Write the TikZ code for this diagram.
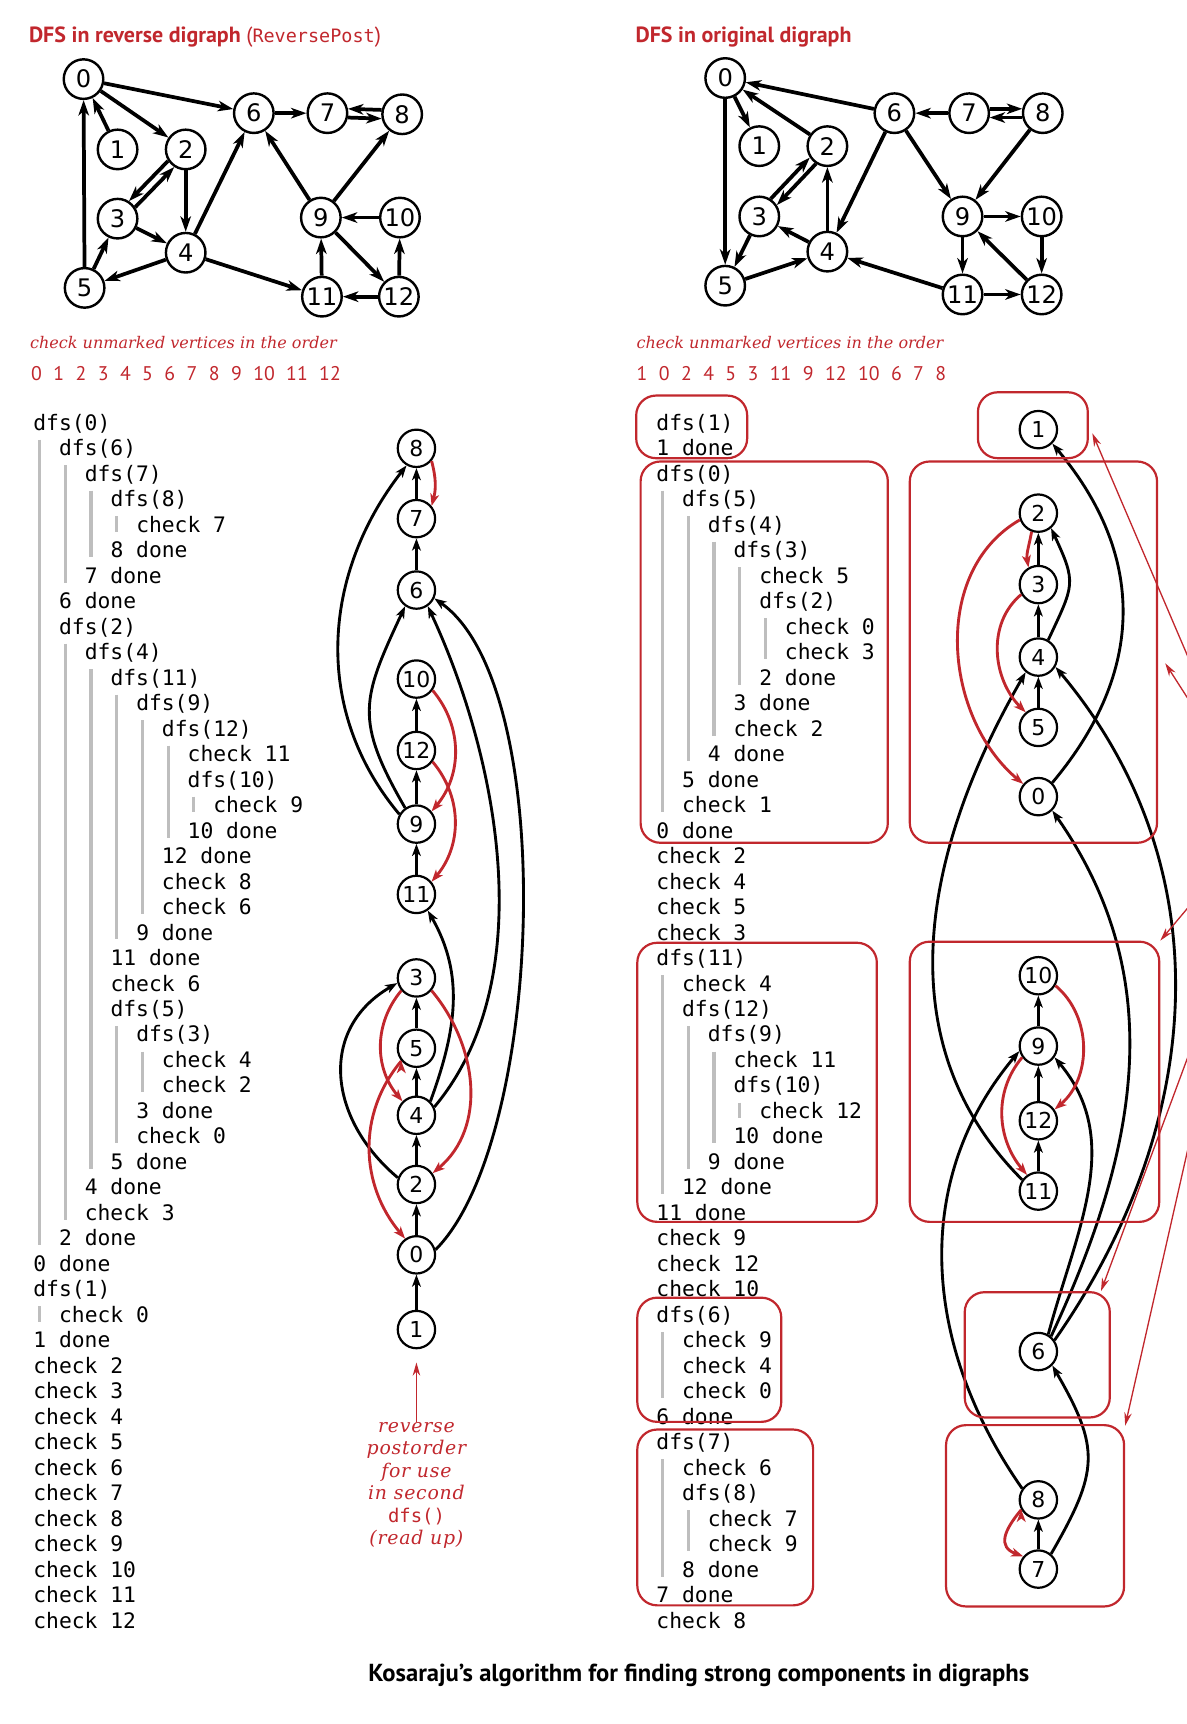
\documentclass[tikz,border=0pt]{standalone}
\usepackage{fontspec}
\newfontfamily\headfont{PT Sans}
\newfontfamily\vtxfont{DejaVu Sans}
\newfontfamily\codefont{DejaVu Sans Mono}
\newfontfamily\notefont{DejaVu Serif}
\usetikzlibrary{arrows.meta,fit}
\definecolor{kred}{RGB}{193,39,45}
\definecolor{kgray}{RGB}{190,190,190}
\tikzset{>={Stealth[length=7pt,width=4.8pt,inset=2pt]},
  vtx/.style={circle,draw,line width=1.1pt,inner sep=0pt,minimum size=18pt,font=\vtxfont\fontsize{11}{11}\selectfont},
  tvtx/.style={vtx,line width=1pt,minimum size=17pt,font=\vtxfont\fontsize{10}{10}\selectfont},
  gedge/.style={->,line width=1.7pt},
  tedge/.style={-{Stealth[length=5.5pt,width=4pt,inset=1.5pt]},line width=1.3pt},
  redge/.style={tedge,draw=kred},
  pointer/.style={-{Stealth[length=6pt,width=3.4pt]},draw=kred,line width=0.6pt},
  compbox/.style={draw=kred,line width=1pt,rounded corners=9pt,inner sep=0pt},
  codeline/.style={anchor=west,inner sep=0pt,text height=7pt,text depth=1.5pt,font=\codefont\fontsize{9.7}{11.6}\selectfont},
  callbar/.style={draw=kgray,line width=1.4pt},
  head/.style={anchor=base west,inner sep=0pt,text=kred,font=\headfont\bfseries\fontsize{10}{12}\selectfont},
  note/.style={anchor=base west,inner sep=0pt,text=kred,font=\notefont\itshape\fontsize{7.3}{9}\selectfont},
  order/.style={anchor=base west,inner sep=0pt,text=kred,font=\headfont\fontsize{9}{11}\selectfont}}

\begin{document}
\begin{tikzpicture}[x=0.5pt,y=0.5pt]
\useasboundingbox (0,0) rectangle (1080,-1569);

% reverse digraph
\node[head] (hrev) at (26,-39) {DFS in reverse digraph {\mdseries(}{\codefont\mdseries\fontsize{8.4}{10}\selectfont ReversePost}{\mdseries)}};
\foreach \v/\x/\y in {0/76/72,1/107/136,2/169/136,3/107/199,4/169/230,5/77/262,6/231/103,7/298/103,8/366/104,9/292/198,10/364/198,11/293/270,12/363/270}
  \node[vtx] (r\v) at (\x,-\y) {\v};
\path[gedge] (r0) edge (r6) (r0) edge (r2) (r1) edge (r0) (r5) edge (r0)
  (r2.213) edge (r3.57) (r3.33) edge (r2.237) (r2) edge (r4) (r3) edge (r4)
  (r5) edge (r3) (r4) edge (r5) (r4) edge (r6) (r6) edge (r7)
  (r8.168) edge (r7.12) (r7.-12) edge (r8.192) (r9) edge (r6) (r9) edge (r8)
  (r10) edge (r9) (r9) edge (r12) (r12) edge (r10) (r11) edge (r9)
  (r12) edge (r11) (r4) edge (r11);
\node[note] (nrev) at (27,-317) {check unmarked vertices in the order};
\node[order] (orev) at (28,-346) {\spaceskip=5.2pt 0 1 2 3 4 5 6 7 8 9 10 11 12};

% original digraph
\node[head] (horg) at (578,-39) {DFS in original digraph};
\foreach \v/\x/\y in {0/660/71,1/691/133,2/753/133,3/691/197,4/753/229,5/660/260,6/814/103,7/882/103,8/949/103,9/876/197,10/948/197,11/876/268,12/948/268}
  \node[vtx] (g\v) at (\x,-\y) {\v};
\path[gedge] (g6) edge (g0) (g0) edge (g1) (g0) edge (g5) (g2) edge (g0)
  (g3.57) edge (g2.213) (g2.237) edge (g3.33) (g4) edge (g2) (g4) edge (g3)
  (g3) edge (g5) (g5) edge (g4) (g6) edge (g4) (g6) edge (g9)
  (g7) edge (g6) (g7.12) edge (g8.168) (g8.192) edge (g7.-12) (g8) edge (g9)
  (g9) edge (g10) (g9) edge (g11) (g10) edge (g12) (g12) edge (g9)
  (g11) edge (g4) (g11) edge (g12);
\node[note] (norg) at (579,-317) {check unmarked vertices in the order};
\node[order] (oorg) at (579,-346) {\spaceskip=5.2pt 1 0 2 4 5 3 11 9 12 10 6 7 8};

% first dfs() trace
\foreach \l/\txt [count=\i from 0] in {0/dfs(0),1/dfs(6),2/dfs(7),3/dfs(8),4/check 7,3/8 done,2/7 done,1/6 done,1/dfs(2),2/dfs(4),3/dfs(11),4/dfs(9),5/dfs(12),6/check 11,6/dfs(10),7/check 9,6/10 done,5/12 done,5/check 8,5/check 6,4/9 done,3/11 done,3/check 6,3/dfs(5),4/dfs(3),5/check 4,5/check 2,4/3 done,4/check 0,3/5 done,2/4 done,2/check 3,1/2 done,0/0 done,0/dfs(1),1/check 0,0/1 done,0/check 2,0/check 3,0/check 4,0/check 5,0/check 6,0/check 7,0/check 8,0/check 9,0/check 10,0/check 11,0/check 12}
  \node[codeline] (lt\i) at ({30+23.4*\l},{-386-23.2*\i}) {\txt};
\foreach \l/\a/\b in {0/1/32,1/2/6,2/3/5,3/4/4,1/9/31,2/10/29,3/11/20,4/12/19,5/13/16,6/15/15,3/24/28,4/25/26,0/35/35}
  \draw[callbar] ({36+23.4*\l},{-377-23.2*\a}) -- ({36+23.4*\l},{-391-23.2*\b});

% second dfs() trace
\foreach \l/\txt [count=\i from 0] in {0/dfs(1),0/1 done,0/dfs(0),1/dfs(5),2/dfs(4),3/dfs(3),4/check 5,4/dfs(2),5/check 0,5/check 3,4/2 done,3/3 done,3/check 2,2/4 done,1/5 done,1/check 1,0/0 done,0/check 2,0/check 4,0/check 5,0/check 3,0/dfs(11),1/check 4,1/dfs(12),2/dfs(9),3/check 11,3/dfs(10),4/check 12,3/10 done,2/9 done,1/12 done,0/11 done,0/check 9,0/check 12,0/check 10,0/dfs(6),1/check 9,1/check 4,1/check 0,0/6 done,0/dfs(7),1/check 6,1/dfs(8),2/check 7,2/check 9,1/8 done,0/7 done,0/check 8}
  \node[codeline] (rt\i) at ({597+23.4*\l},{-386-23.2*\i}) {\txt};
\foreach \l/\a/\b in {0/3/15,1/4/13,2/5/12,3/6/10,4/8/9,0/22/30,1/24/29,2/25/28,3/27/27,0/36/38,0/41/45,1/43/44}
  \draw[callbar] ({603+23.4*\l},{-377-23.2*\a}) -- ({603+23.4*\l},{-391-23.2*\b});
\node[compbox,fit={(579,-360) (680,-417)}] (bA) {};
\node[compbox,fit={(583,-420) (808,-767)}] (bB) {};
\node[compbox,fit={(580,-858) (798,-1112)}] (bC) {};
\node[compbox,fit={(580,-1181) (711,-1294)}] (bD) {};
\node[compbox,fit={(580,-1301) (740,-1461)}] (bE) {};

% reverse postorder tree
\foreach \v/\y in {8/408,7/472,6/537,10/618,12/683,9/750,11/814,3/890,5/954,4/1015,2/1078,0/1142,1/1210}
  \node[tvtx] (t\v) at (379,-\y) {\v};
\path[tedge] (t7) edge (t8) (t6) edge (t7) (t12) edge (t10) (t9) edge (t12) (t11) edge (t9)
  (t5) edge (t3) (t4) edge (t5) (t2) edge (t4) (t0) edge (t2) (t1) edge (t0)
  (t9.150) edge[out=130,in=-128] (t8.240)
  (t9.125) edge[out=120,in=-115,looseness=1.3] (t6.235)
  (t4.25) edge[out=50,in=-65,looseness=0.85] (t6.-55)
  (t0.15) edge[out=45,in=-35,looseness=0.6] (t6.-25)
  (t4.45) edge[out=70,in=-60] (t11.-55)
  (t2.160) edge[out=140,in=-150,looseness=1.2] (t3.195);
\path[redge] (t8.-40) edge[out=-75,in=75] (t7.40)
  (t10.-35) edge[out=-50,in=50] (t9.40)
  (t12.-35) edge[out=-50,in=50] (t11.40)
  (t3.220) edge[out=-130,in=130] (t4.135)
  (t3.-40) edge[out=-50,in=40] (t2.35)
  (t5.220) edge[out=-130,in=130] (t0.125);
\node[anchor=north,align=center,inner sep=0pt,text=kred,font=\notefont\itshape\addfontfeature{LetterSpace=4}\fontsize{8.6}{10.2}\selectfont] (rpost) at (379,-1294)
  {reverse\\postorder\\for use\\in second\\{\upshape\codefont\fontsize{8.6}{10}\selectfont dfs()}\\(read up)};
\draw[pointer,shorten >=6pt] (rpost.north) -- (t1.south);

% strong components tree
\foreach \v/\y in {1/391,2/467,3/532,4/598,5/662,0/725,10/888,9/952,12/1020,11/1084,6/1230,8/1365,7/1428}
  \node[tvtx] (s\v) at (945,-\y) {\v};
\path[tedge] (s3) edge (s2) (s4) edge (s3) (s5) edge (s4) (s9) edge (s10) (s12) edge (s9)
  (s11) edge (s12) (s7) edge (s8)
  (s0.45) edge[out=50,in=-50,looseness=1.1] (s1.-45)
  (s4.60) edge[out=65,in=-65,looseness=1.4] (s2.-50)
  (s6.60) edge[out=75,in=-50] (s9.-35)
  (s6.50) edge[out=65,in=-55] (s0.-45)
  (s6.35) edge[out=55,in=-50] (s4.-30)
  (s8.145) edge[out=125,in=-130] (s9.195)
  (s7.50) edge[out=60,in=-60,looseness=1.3] (s6.-45)
  (s11.145) edge[out=135,in=-120] (s4.-130);
\path[redge] (s2.-110) edge[out=-100,in=100] (s3.120)
  (s2.200) edge[out=-150,in=140] (s0.140)
  (s3.210) edge[out=-140,in=135] (s5.130)
  (s10.-30) edge[out=-40,in=40] (s12.35)
  (s9.-145) edge[out=-130,in=130] (s11.125)
  (s8.-150) edge[out=-130,in=160,looseness=1.5] (s7.140);
\node[compbox,fit={(890,-357) (990,-417)}] (k1) {};
\node[compbox,fit={(828,-420) (1053,-767)}] (k2) {};
\node[compbox,fit={(828,-857) (1055,-1112)}] (k3) {};
\node[compbox,fit={(878,-1176) (1010,-1290)}] (k4) {};
\node[compbox,fit={(861,-1297) (1023,-1462)}] (k5) {};
\coordinate (offA) at (1130,-712);
\coordinate (offB) at (1130,-768);
\coordinate (offC) at (1130,-830);
\draw[pointer,shorten >=4pt] (offA) -- (k1.east);
\draw[pointer,shorten >=6pt] (offA) -- (k2.east);
\draw[pointer] (offB) -- (k3.north east);
\draw[pointer] (offC) -- (k4.45);
\draw[pointer] (offC) -- (k5.45);

\node[anchor=base,inner sep=0pt,font=\headfont\bfseries\fontsize{11.2}{13}\selectfont] (cap) at (636,-1530)
  {Kosaraju’s algorithm for finding strong components in digraphs};
\end{tikzpicture}
\end{document}
